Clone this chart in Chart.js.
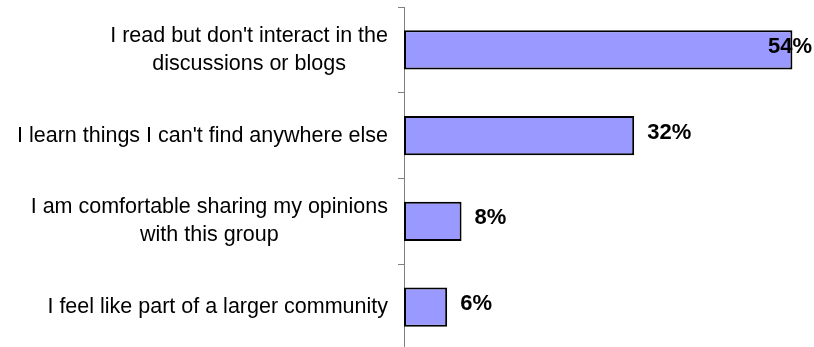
<!DOCTYPE html>
<html>
<head>
<meta charset="utf-8">
<script src="https://cdn.jsdelivr.net/npm/chart.js@4/dist/chart.umd.min.js"></script>
<style>
  html, body { margin: 0; padding: 0; background: #fff; overflow: hidden; }
  #wrap { width: 814px; height: 350px; position: relative; }
</style>
</head>
<body>
<div id="wrap"><canvas id="c"></canvas></div>
<script>
// Survey answers (one array entry per line of the wrapped label)
const categories = [
  ["I read but don't interact in the", "discussions or blogs"],
  ["I learn things I can't find anywhere else"],
  ["I am comfortable sharing my opinions", "with this group"],
  ["I feel like part of a larger community"]
];
const values = [54, 32, 8, 6];
const valueLabels = ["54%", "32%", "8%", "6%"];

const FONT = "'Liberation Sans', Arial, Helvetica, sans-serif";

// Category labels: block right-aligned next to the axis, lines centred within the block
const categoryLabels = {
  id: 'categoryLabels',
  afterDraw(chart) {
    const ctx = chart.ctx;
    const y = chart.scales.y;
    const right = y.right - 16;
    const lineH = 28;
    ctx.save();
    ctx.font = `21.5px ${FONT}`;
    ctx.fillStyle = '#000';
    ctx.textAlign = 'center';
    ctx.textBaseline = 'middle';
    categories.forEach((lines, i) => {
      const cy = y.getPixelForTick(i);
      const w = Math.max(...lines.map(l => ctx.measureText(l).width));
      const cx = right - w / 2;
      const top = cy - (lines.length - 1) * lineH / 2;
      lines.forEach((l, k) => ctx.fillText(l, cx, top + k * lineH));
    });
    ctx.restore();
  }
};

// Value labels just past the end of each bar, kept inside the canvas
const valueText = {
  id: 'valueText',
  afterDatasetsDraw(chart) {
    const ctx = chart.ctx;
    const meta = chart.getDatasetMeta(0);
    ctx.save();
    ctx.font = `bold 22px ${FONT}`;
    ctx.fillStyle = '#000';
    ctx.textAlign = 'left';
    ctx.textBaseline = 'middle';
    meta.data.forEach((bar, i) => {
      const t = valueLabels[i];
      const w = ctx.measureText(t).width;
      const x = Math.min(bar.x + 13, chart.width - 2 - w);
      ctx.fillText(t, x, bar.y - 3);
    });
    ctx.restore();
  }
};

new Chart(document.getElementById('c'), {
  type: 'bar',
  data: {
    labels: categories,
    datasets: [{
      data: values,
      backgroundColor: '#9999FF',
      borderColor: '#000',
      borderWidth: 2,
      borderSkipped: false,
      barPercentage: 0.455,
      categoryPercentage: 1
    }]
  },
  options: {
    indexAxis: 'y',
    responsive: true,
    maintainAspectRatio: false,
    animation: false,
    layout: { padding: { top: 7, right: 0, bottom: 0, left: 0 } },
    plugins: { legend: { display: false }, tooltip: { enabled: false } },
    scales: {
      x: {
        display: false,
        min: 0,
        max: 57
      },
      y: {
        offset: true,
        afterFit(scale) { scale.width = 404; },
        grid: {
          drawOnChartArea: false,
          drawTicks: true,
          tickLength: 6,
          color: '#808080',
          offset: true
        },
        border: { display: true, color: '#808080', width: 1 },
        ticks: { display: false }
      }
    }
  },
  plugins: [categoryLabels, valueText]
});
</script>
</body>
</html>
